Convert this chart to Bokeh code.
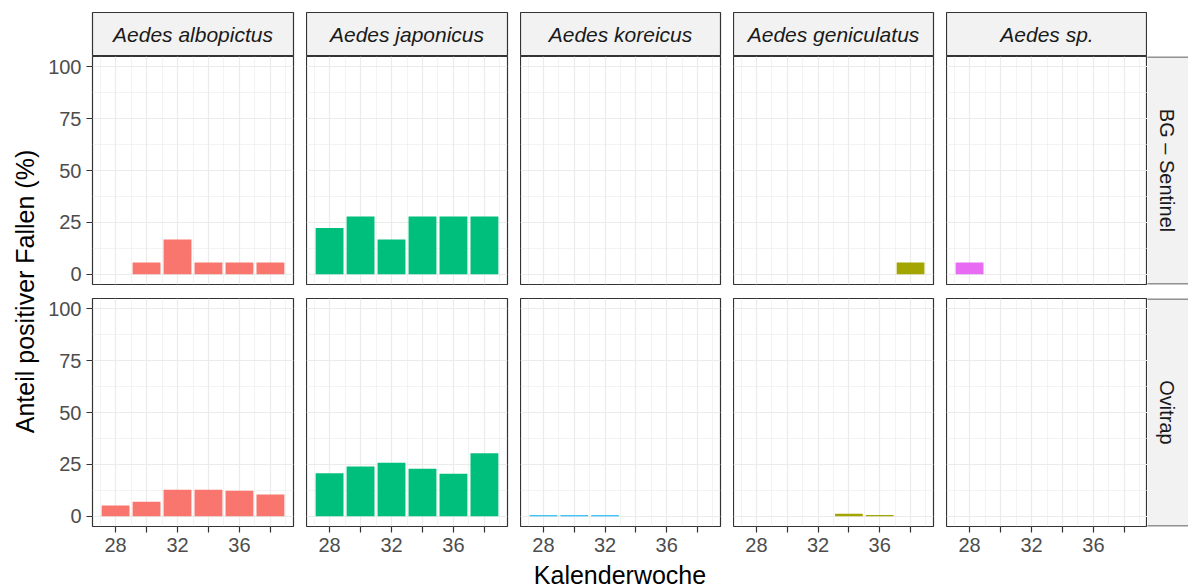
import math

from bokeh.embed import file_html
from bokeh.layouts import column, row
from bokeh.models import FixedTicker, Grid, Label, LinearAxis, Range1d
from bokeh.plotting import figure
from bokeh.resources import INLINE

# --- data -------------------------------------------------------------------
weeks = [28, 30, 32, 34, 36, 38]
species = ["Aedes albopictus", "Aedes japonicus", "Aedes koreicus",
           "Aedes geniculatus", "Aedes sp."]
species_colors = ["#F8766D", "#00BF7D", "#00B0F6", "#A3A500", "#E76BF3"]
trap_types = ["BG – Sentinel", "Ovitrap"]

# share of positive traps (%) per calendar week, BG-Sentinel
bg_albopictus = [0, 5.6, 16.7, 5.6, 5.6, 5.6]
bg_japonicus = [22.2, 27.8, 16.7, 27.8, 27.8, 27.8]
bg_koreicus = [0, 0, 0, 0, 0, 0]
bg_geniculatus = [0, 0, 0, 0, 0, 5.6]
bg_sp = [5.6, 0, 0, 0, 0, 0]

# share of positive traps (%) per calendar week, ovitraps
ov_albopictus = [5.1, 6.9, 12.7, 12.7, 12.2, 10.4]
ov_japonicus = [20.7, 24.0, 25.8, 22.9, 20.4, 30.4]
ov_koreicus = [0.4, 0.4, 0.4, 0, 0, 0]
ov_geniculatus = [0, 0, 0, 1.1, 0.5, 0]
ov_sp = [0, 0, 0, 0, 0, 0]

x_breaks = [28, 30, 32, 34, 36, 38]
x_minor_breaks = [27, 29, 31, 33, 35, 37, 39]
x_tick_labels = ["28", "", "32", "", "36", ""]
y_breaks = [0, 25, 50, 75, 100]
y_minor_breaks = [12.5, 37.5, 62.5, 87.5]
y_tick_labels = ["0", "25", "50", "75", "100"]

x_title = "Kalenderwoche"
y_title = "Anteil positiver Fallen (%)"

table = {
    "BG – Sentinel": [bg_albopictus, bg_japonicus, bg_koreicus, bg_geniculatus, bg_sp],
    "Ovitrap": [ov_albopictus, ov_japonicus, ov_koreicus, ov_geniculatus, ov_sp],
}

# --- styling / geometry -----------------------------------------------------
FONT = "Liberation Sans"
STRIP_FILL = "#F2F2F2"
BORDER = "#333333"
GRID_COL = "#EBEBEB"
FRAME_W = [201, 201, 200, 200, 201]
GAP = 13
FRAME_H = 228
LEFT_AXIS_W = 52
YTITLE_W = 40
RIGHT_STRIP_W = 41
BAR_W = 1.8
X_LIM = (26.51, 39.49)
Y_LIM = (-5, 105)


def base_fig(col, frame_h, top=0, bottom=0, x_range=None, y_range=None):
    return figure(
        frame_width=FRAME_W[col], frame_height=frame_h,
        x_range=x_range or Range1d(0, 1), y_range=y_range or Range1d(0, 1),
        x_axis_type=None, y_axis_type=None,
        min_border_left=LEFT_AXIS_W if col == 0 else 0,
        min_border_right=GAP if col < 4 else 0,
        min_border_top=top, min_border_bottom=bottom,
        toolbar_location=None, output_backend="svg",
    )


def style_axis(ax):
    ax.axis_line_color = None
    ax.major_tick_line_color = BORDER
    ax.major_tick_line_width = 1.2
    ax.major_tick_out = 6
    ax.major_tick_in = 0
    ax.minor_tick_line_color = None
    ax.major_label_text_font = FONT
    ax.major_label_text_font_size = "20px"
    ax.major_label_text_color = "#4D4D4D"
    ax.major_label_standoff = 5


def make_strip(text, col):
    s = base_fig(col, 44, top=12)
    s.background_fill_color = STRIP_FILL
    s.border_fill_color = "white"
    s.outline_line_color = BORDER
    s.outline_line_width = 1.2
    s.add_layout(Label(x=0.5, y=0.5, text=text, text_align="center",
                       text_baseline="middle", text_font=FONT,
                       text_font_style="italic", text_font_size="21px",
                       text_color="#1A1A1A"))
    return s


def make_panel(vals, color, col, r):
    bottom = 33 if r == 1 else 14
    p = base_fig(col, FRAME_H, bottom=bottom,
                 x_range=Range1d(*X_LIM), y_range=Range1d(*Y_LIM))
    p.background_fill_color = "white"
    p.border_fill_color = "white"
    p.outline_line_color = BORDER
    p.outline_line_width = 1.2

    p.add_layout(Grid(dimension=0,
                      ticker=FixedTicker(ticks=x_breaks, minor_ticks=x_minor_breaks),
                      grid_line_color=GRID_COL, grid_line_width=1.2,
                      minor_grid_line_color=GRID_COL, minor_grid_line_width=0.6))
    p.add_layout(Grid(dimension=1,
                      ticker=FixedTicker(ticks=y_breaks, minor_ticks=y_minor_breaks),
                      grid_line_color=GRID_COL, grid_line_width=1.2,
                      minor_grid_line_color=GRID_COL, minor_grid_line_width=0.6))

    p.vbar(x=weeks, top=vals, bottom=0, width=BAR_W,
           fill_color=color, line_color=None)

    if r == 1:
        xa = LinearAxis(ticker=FixedTicker(ticks=x_breaks),
                        major_label_overrides=dict(zip(x_breaks, x_tick_labels)))
        style_axis(xa)
        p.add_layout(xa, "below")
    if col == 0:
        ya = LinearAxis(ticker=FixedTicker(ticks=y_breaks),
                        major_label_overrides=dict(zip(y_breaks, y_tick_labels)))
        style_axis(ya)
        p.add_layout(ya, "left")
    return p


def make_row_strip(text, bottom):
    s = figure(frame_width=RIGHT_STRIP_W, frame_height=FRAME_H,
               x_range=Range1d(0, RIGHT_STRIP_W), y_range=Range1d(0, FRAME_H),
               x_axis_type=None, y_axis_type=None,
               min_border_left=0, min_border_right=0, min_border_top=0,
               min_border_bottom=bottom, toolbar_location=None,
               output_backend="svg")
    s.background_fill_color = STRIP_FILL
    s.border_fill_color = "white"
    s.outline_line_color = None
    # strip box: its left and right sides fall outside the frame
    s.quad(left=-5, right=RIGHT_STRIP_W + 10, bottom=0.5, top=FRAME_H - 0.5,
           fill_color=None, line_color=BORDER, line_width=1.2)
    s.add_layout(Label(x=19, y=FRAME_H / 2, text=text, angle=-math.pi / 2,
                       text_align="center", text_baseline="middle",
                       text_font=FONT, text_font_size="20px",
                       text_color="#1A1A1A"))
    return s


# --- assemble ---------------------------------------------------------------
strip_row = row([make_strip(sp, c) for c, sp in enumerate(species)])

panel_rows = []
for r, trap in enumerate(trap_types):
    figs = [make_panel(table[trap][c], species_colors[c], c, r)
            for c in range(len(species))]
    figs.append(make_row_strip(trap, 33 if r == 1 else 14))
    panel_rows.append(row(figs))

main_w = LEFT_AXIS_W + sum(FRAME_W) + GAP * 4 + RIGHT_STRIP_W
xt = figure(frame_width=main_w, frame_height=28,
            x_range=Range1d(0, main_w), y_range=Range1d(0, 28),
            x_axis_type=None, y_axis_type=None, min_border=0,
            toolbar_location=None, output_backend="svg")
xt.outline_line_color = None
xt.add_layout(Label(x=LEFT_AXIS_W + (sum(FRAME_W) + GAP * 4) / 2, y=13,
                    text=x_title, text_align="center", text_baseline="middle",
                    text_font=FONT, text_font_size="25px", text_color="black"))

total_h = 56 + (FRAME_H + 14) + (FRAME_H + 33) + 28
yt = figure(frame_width=YTITLE_W, frame_height=total_h,
            x_range=Range1d(0, YTITLE_W), y_range=Range1d(0, total_h),
            x_axis_type=None, y_axis_type=None, min_border=0,
            toolbar_location=None, output_backend="svg")
yt.outline_line_color = None
yt.add_layout(Label(x=24, y=total_h - 291, text=y_title, angle=math.pi / 2,
                    text_align="center", text_baseline="middle",
                    text_font=FONT, text_font_size="25px", text_color="black"))

p = row(yt, column(strip_row, panel_rows[0], panel_rows[1], xt))

open("out.html", "w").write(file_html(p, INLINE))
